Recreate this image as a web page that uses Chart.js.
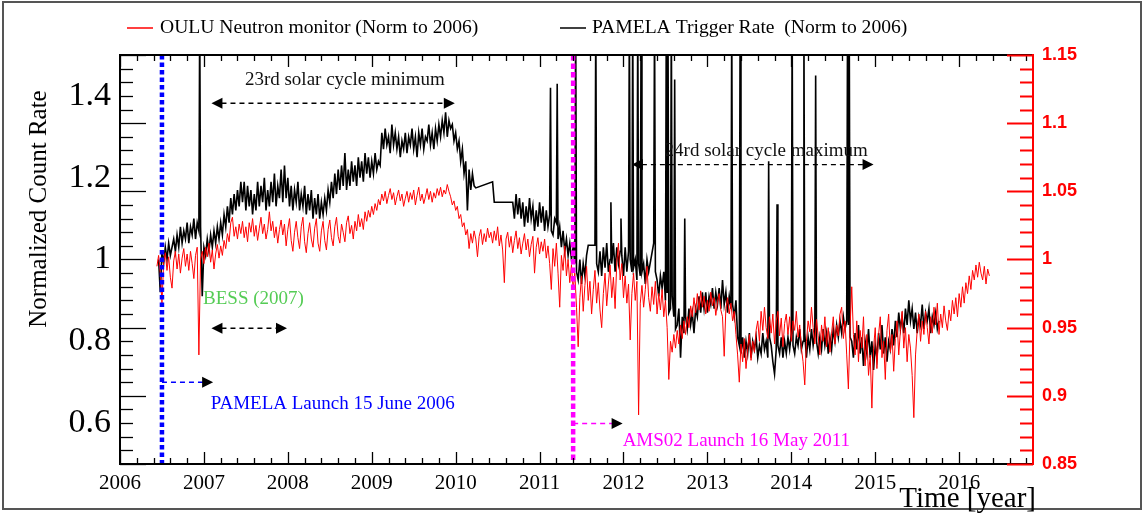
<!DOCTYPE html>
<html>
<head>
<meta charset="utf-8">
<script src="https://cdn.jsdelivr.net/npm/chart.js@4"></script>
<style>
html,body{margin:0;padding:0;background:#fff;}
#wrap{width:1146px;height:518px;}
</style>
</head>
<body>
<div id="wrap"><canvas id="c" width="1146" height="518"></canvas></div>
<script>
// ---------------- DATA ----------------
const sampleStep = 0.02;          // years between samples
const pamelaStart = 2006.46;      // first PAMELA sample (year)
const ouluStart = 2006.44;        // first OULU sample (year)

// PAMELA trigger rate, normalised to 2006 (left axis); null = no data
const pamelaRate = [
1.00,0.92,1.02,0.99,1.03,1.00,1.04,1.01,1.03,1.05,1.02,1.06,1.03,1.08,1.04,1.07,1.05,1.09,1.04,1.08,1.06,1.10,1.05,1.09,1.07,
1.08,0.91,1.03,1.01,1.05,1.02,1.06,1.03,1.07,1.04,1.08,1.05,1.09,1.06,1.11,1.08,1.13,1.09,1.15,1.11,1.16,1.12,1.17,1.13,1.19,
1.14,1.19,1.12,1.18,1.13,1.17,1.11,1.16,1.12,1.19,1.13,1.18,1.14,1.20,1.12,1.17,1.13,1.19,1.14,1.21,1.13,1.18,1.15,1.22,1.14,
1.23,1.15,1.20,1.13,1.18,1.12,1.17,1.14,1.19,1.12,1.16,1.13,1.18,1.11,1.16,1.12,1.17,1.10,1.15,1.11,1.16,1.10,1.14,1.11,1.15,
1.12,1.17,1.14,1.19,1.15,1.21,1.16,1.22,1.17,1.23,1.18,1.26,1.17,1.22,1.18,1.24,1.19,1.23,1.18,1.25,1.20,1.24,1.19,1.26,1.21,
1.25,1.20,1.24,1.21,1.26,1.22,1.24,1.23,1.31,1.27,1.32,1.28,1.30,1.26,1.33,1.28,1.31,1.27,1.30,1.25,1.29,1.27,1.31,1.26,1.30,
1.28,1.32,1.27,1.30,1.25,1.31,1.28,1.32,1.27,1.30,1.29,1.33,1.28,1.31,1.27,1.32,1.29,1.33,1.30,1.34,1.31,1.36,1.30,1.34,1.32,
1.33,1.29,1.31,1.27,1.29,1.24,1.27,1.21,1.24,1.12,1.22,1.17,1.21,1.18,1.175,null,null,null,null,null,null,null,null,null,1.19,
1.14,null,null,null,null,null,null,null,null,null,null,1.14,1.10,1.16,1.11,1.15,1.10,1.14,1.08,1.13,1.09,1.15,1.10,1.13,1.07,
1.12,1.08,1.14,1.09,1.13,1.07,1.12,1.08,1.11,1.07,1.06,1.10,1.09,1.05,1.08,1.03,1.07,1.02,1.05,1.01,1.04,1.00,1.03,0.99,0.97,
0.95,1.00,0.94,0.99,0.96,1.01,1.035,null,null,null,1.035,0.99,0.97,1.02,0.96,1.03,0.98,1.04,0.97,1.00,0.99,1.04,0.97,1.03,0.99,
1.02,1.01,0.96,1.03,0.97,1.02,1.00,0.97,0.98,1.00,0.95,0.99,0.96,0.97,0.99,0.94,1.00,0.97,null,null,1.04,0.97,0.95,0.91,0.96,
0.93,0.97,0.90,0.92,0.87,0.88,0.91,0.86,0.83,0.84,0.88,0.76,0.86,0.82,0.86,0.83,0.88,0.84,0.87,0.82,0.88,0.86,0.91,0.87,0.92,
0.88,0.92,0.87,0.91,0.89,0.93,0.88,0.92,0.89,0.93,0.88,0.95,0.89,0.92,0.87,0.91,0.88,0.89,0.86,0.90,0.81,0.79,0.77,0.81,0.76,
0.80,0.77,0.82,0.76,0.80,0.78,0.81,0.76,0.79,0.77,0.82,0.78,0.80,0.76,0.81,0.79,0.75,0.72,0.78,0.79,0.77,0.81,0.76,0.80,0.77,
0.81,0.78,0.82,0.79,0.77,0.81,0.79,0.83,0.78,0.80,0.82,0.76,0.81,0.78,0.83,0.79,0.82,0.80,0.77,0.81,0.78,0.83,0.79,0.82,0.77,
0.81,0.78,0.83,0.80,0.84,0.81,0.85,0.82,0.86,0.83,0.85,0.84,0.81,0.80,0.76,0.82,0.78,0.84,0.77,0.81,0.74,0.80,0.77,0.83,0.76,
0.80,0.73,0.79,0.76,0.82,0.78,0.84,0.77,0.81,0.75,0.80,0.78,0.83,0.79,0.85,0.81,0.87,0.83,0.86,0.82,0.88,0.84,0.90,0.85,0.88,
0.83,0.87,0.82,0.86,0.84,0.89,0.83,0.87,0.85,0.88,0.82,0.86,0.84,0.87,0.83,0.85
];

// short PAMELA trigger bursts (year, normalised rate; values above 1.5 run off the top)
const pamelaSpikeYears = [2006.95,2011.13,2011.21,2011.43,2011.67,2011.85,2011.97,2012.07,2012.11,2012.17,2012.21,2012.37,
  2012.51,2012.53,2012.57,2012.61,2012.73,2013.29,2013.39,2013.73,2013.83,2014.01,2014.15,2014.29,2014.67,2014.69];
const pamelaSpikeRates = [1.60,1.42,1.43,1.60,1.60,1.14,1.10,1.60,1.60,1.60,1.60,1.60,
  1.60,1.60,1.60,1.44,1.10,1.60,1.60,1.24,1.135,1.60,1.60,1.45,1.60,1.60];

// OULU neutron monitor, normalised to 2006 (right axis)
const ouluRate = [
0.995,1.003,0.990,0.968,0.998,1.005,0.992,1.002,0.987,0.979,0.999,1.006,0.993,1.004,0.990,1.001,1.008,0.995,1.004,0.992,1.006,0.997,0.986,1.003,1.009,
0.930,1.000,1.006,0.997,1.009,1.002,1.012,0.998,1.007,0.993,1.004,1.011,1.001,1.010,1.003,1.014,1.008,1.019,1.013,1.027,1.031,1.017,1.024,1.015,1.026,
1.019,1.028,1.016,1.024,1.013,1.027,1.020,1.030,1.017,1.025,1.014,1.023,1.031,1.019,1.026,1.015,1.022,1.035,1.021,1.028,1.016,1.024,1.012,1.022,1.029,
1.018,1.026,1.010,1.022,1.030,1.014,1.006,1.020,1.028,1.016,1.008,1.024,1.031,1.013,1.005,1.019,1.027,1.015,1.009,1.023,1.030,1.012,1.006,1.021,1.028,
1.014,1.007,1.022,1.029,1.016,1.010,1.024,1.031,1.017,1.012,1.026,1.020,1.013,1.027,1.032,1.019,1.025,1.015,1.028,1.021,1.033,1.024,1.030,1.022,1.035,
1.028,1.036,1.031,1.039,1.033,1.041,1.036,1.044,1.040,1.048,1.043,1.050,1.041,1.047,1.052,1.044,1.049,1.040,1.046,1.051,1.043,1.048,1.039,1.045,1.050,
1.042,1.049,1.044,1.051,1.040,1.047,1.053,1.043,1.048,1.041,1.046,1.052,1.044,1.050,1.042,1.049,1.045,1.052,1.047,1.053,1.046,1.051,1.048,1.055,1.050,
1.046,1.040,1.043,1.036,1.039,1.030,1.033,1.024,1.027,1.018,1.022,1.008,1.019,1.012,1.021,1.015,1.002,1.017,1.022,1.011,1.019,1.013,1.023,1.016,1.020,
1.012,1.021,1.014,1.024,1.010,1.018,1.007,0.983,1.015,1.020,1.009,1.017,1.005,1.014,1.021,1.008,1.016,1.004,1.012,1.019,1.007,1.015,1.002,1.011,1.017,
0.990,1.009,1.016,1.004,1.013,1.006,1.015,1.001,1.010,0.997,0.978,1.008,0.995,1.012,0.990,0.965,1.003,0.992,1.010,0.988,1.000,0.983,0.996,0.978,0.990,
0.965,0.936,0.972,0.988,0.962,0.981,0.995,0.970,0.984,0.960,0.978,0.992,0.968,0.983,0.963,0.950,0.975,0.990,0.966,0.982,0.996,0.972,0.987,0.964,0.998,
1.012,0.985,0.997,0.972,0.988,0.968,0.982,0.941,0.975,0.990,0.970,0.984,0.886,0.968,0.981,0.965,0.978,0.995,0.972,0.962,0.980,0.967,0.984,0.960,0.975,
0.963,0.978,0.958,0.970,0.950,0.912,0.940,0.932,0.945,0.935,0.948,0.938,0.952,0.942,0.955,0.945,0.958,0.950,0.966,0.958,0.972,0.961,0.975,0.963,0.977,
0.965,0.973,0.960,0.970,0.962,0.976,0.966,0.972,0.959,0.969,0.975,0.963,0.958,0.929,0.964,0.972,0.960,0.968,0.955,0.962,0.945,0.930,0.910,0.938,0.925,
0.942,0.920,0.935,0.945,0.926,0.940,0.932,0.948,0.955,0.940,0.962,0.948,0.965,0.950,0.942,0.958,0.946,0.960,0.938,0.955,0.962,0.944,0.957,0.936,0.953,
0.960,0.945,0.958,0.940,0.955,0.948,0.962,0.943,0.952,0.935,0.925,0.908,0.940,0.955,0.947,0.965,0.950,0.938,0.956,0.944,0.930,0.952,0.940,0.958,0.936,
0.950,0.932,0.946,0.958,0.938,0.952,0.944,0.960,0.965,0.942,0.955,0.930,0.905,0.950,0.980,0.945,0.930,0.955,0.925,0.948,0.935,0.958,0.922,0.945,0.915,
0.930,0.891,0.935,0.950,0.920,0.945,0.958,0.928,0.940,0.912,0.948,0.960,0.932,0.945,0.918,0.942,0.955,0.930,0.948,0.962,0.935,0.950,0.925,0.945,0.935,
0.915,0.884,0.930,0.948,0.960,0.940,0.955,0.945,0.962,0.950,0.938,0.958,0.946,0.965,0.952,0.968,0.945,0.960,0.950,0.966,0.955,0.948,0.963,0.955,0.970,
0.960,0.972,0.958,0.975,0.965,0.980,0.968,0.983,0.975,0.988,0.978,0.992,0.985,0.996,0.987,0.998,0.990,0.985,0.995,0.982,0.993,0.988
];

const xTickYears = [2006,2007,2008,2009,2010,2011,2012,2013,2014,2015,2016];
const leftTicks = [0.6,0.8,1,1.2,1.4];
const rightTicks = [0.85,0.9,0.95,1,1.05,1.1,1.15];

const legendLabels = ['OULU Neutron monitor (Norm to 2006)', 'PAMELA Trigger Rate  (Norm to 2006)'];
const pamelaLaunch = 2006.5;   // PAMELA launch, 15 June 2006
const amsLaunch = 2011.4;      // AMS02 launch, 16 May 2011

// ---------------- CHART ----------------
const toPoints = (start, vals) => vals.map((v, i) => ({x: +(start + i * sampleStep).toFixed(2), y: v}));
const pamelaPoints = toPoints(pamelaStart, pamelaRate)
  .concat(pamelaSpikeYears.map((x, i) => ({x, y: pamelaSpikeRates[i]})))
  .sort((p, q) => p.x - q.x);

const SERIF = 'Liberation Serif';

function arrowHead(ctx, tipX, tipY, dir) {
  ctx.beginPath();
  ctx.moveTo(tipX, tipY);
  ctx.lineTo(tipX - dir * 11, tipY - 5.5);
  ctx.lineTo(tipX - dir * 11, tipY + 5.5);
  ctx.closePath();
  ctx.fillStyle = '#000';
  ctx.fill();
}
function dashedArrow(ctx, x1, x2, yy, color, both) {
  ctx.save();
  ctx.strokeStyle = color;
  ctx.lineWidth = 1.4;
  ctx.setLineDash([5, 4]);
  ctx.beginPath();
  ctx.moveTo(both ? x1 + 10 : x1, yy);
  ctx.lineTo(x2 - 10, yy);
  ctx.stroke();
  ctx.restore();
  arrowHead(ctx, x2, yy, 1);
  if (both) arrowHead(ctx, x1, yy, -1);
}

const overlay = {
  id: 'overlay',
  afterDatasetsDraw(chart) {
    const {ctx, chartArea: a, scales} = chart;
    const X = v => scales.x.getPixelForValue(v);
    const Y = v => scales.y.getPixelForValue(v);
    ctx.save();
    ctx.lineWidth = 4.5;
    ctx.setLineDash([4.5, 3]);
    ctx.strokeStyle = '#0000ff';
    ctx.beginPath(); ctx.moveTo(X(pamelaLaunch), a.top); ctx.lineTo(X(pamelaLaunch), a.bottom); ctx.stroke();
    ctx.strokeStyle = '#ff00ff';
    ctx.setLineDash([5.5, 3]);
    ctx.beginPath(); ctx.moveTo(X(amsLaunch), a.top); ctx.lineTo(X(amsLaunch), a.bottom); ctx.stroke();
    ctx.setLineDash([]);
    dashedArrow(ctx, X(2007.09), X(2009.99), Y(1.382), '#000', true);
    dashedArrow(ctx, X(2007.09), X(2007.99), Y(0.832), '#000', true);
    dashedArrow(ctx, X(2012.1), X(2014.98), Y(1.232), '#000', true);
    dashedArrow(ctx, X(pamelaLaunch), X(2007.11), Y(0.70), '#0000ff', false);
    dashedArrow(ctx, X(amsLaunch), X(2011.99), Y(0.599), '#ff00ff', false);
    ctx.font = '19px "' + SERIF + '"';
    ctx.textBaseline = 'middle';
    ctx.fillStyle = '#111';
    ctx.textAlign = 'center';
    ctx.fillText('23rd solar cycle minimum', X(2008.68), Y(1.439));
    ctx.textAlign = 'left';
    ctx.fillText('24rd solar cycle maximum', X(2012.49), Y(1.265));
    ctx.fillStyle = '#55cc55';
    ctx.fillText('BESS (2007)', X(2006.99), Y(0.903));
    ctx.fillStyle = '#0000ff';
    ctx.fillText('PAMELA Launch 15 June 2006', X(2007.08), Y(0.646));
    ctx.fillStyle = '#ff00ff';
    ctx.fillText('AMS02 Launch 16 May 2011', X(2011.99), Y(0.555));
    ctx.restore();
  },
  afterDraw(chart) {
    const {ctx, chartArea: a, scales} = chart;
    ctx.save();
    ctx.strokeStyle = '#555';
    ctx.lineWidth = 2;
    ctx.strokeRect(3, 2, 1138, 507);
    ctx.strokeStyle = '#000';
    ctx.lineWidth = 2;
    ctx.strokeRect(a.left, a.top, a.right - a.left, a.bottom - a.top);
    ctx.strokeStyle = '#ff0000';
    ctx.beginPath(); ctx.moveTo(a.right, a.top - 1); ctx.lineTo(a.right, a.bottom + 1); ctx.stroke();
    ctx.strokeStyle = '#000';
    ctx.lineWidth = 1.3;
    for (let k = 0; k <= 54; k++) {
      const yr = 2006 + k * 0.2;
      if (yr > scales.x.max) break;
      const px = Math.round(scales.x.getPixelForValue(yr)) + 0.5;
      const len = (k % 5 === 0) ? 12 : 6;
      ctx.beginPath();
      ctx.moveTo(px, a.bottom); ctx.lineTo(px, a.bottom - len);
      ctx.moveTo(px, a.top); ctx.lineTo(px, a.top + len);
      ctx.stroke();
    }
    for (let k = 85; k <= 115; k++) {
      const py = Math.round(scales.yR.getPixelForValue(k / 100)) + 0.5;
      const len = (k % 5 === 0) ? 26 : 13;
      ctx.strokeStyle = '#000';
      ctx.lineWidth = 1.3;
      ctx.beginPath(); ctx.moveTo(a.left, py); ctx.lineTo(a.left + len, py); ctx.stroke();
      ctx.strokeStyle = '#ff0000';
      ctx.lineWidth = 2;
      ctx.beginPath(); ctx.moveTo(a.right, py); ctx.lineTo(a.right - len, py); ctx.stroke();
    }
    // legend
    ctx.lineWidth = 1.5;
    ctx.strokeStyle = '#ff0000';
    ctx.beginPath(); ctx.moveTo(127, 28); ctx.lineTo(153, 28); ctx.stroke();
    ctx.strokeStyle = '#000';
    ctx.beginPath(); ctx.moveTo(560, 28); ctx.lineTo(586, 28); ctx.stroke();
    ctx.fillStyle = '#000';
    ctx.font = '19.6px "' + SERIF + '"';
    ctx.textBaseline = 'middle';
    ctx.textAlign = 'left';
    ctx.fillText(legendLabels[0], 160, 28);
    ctx.fillText(legendLabels[1], 592, 28);
    // axis titles
    ctx.font = '29px "' + SERIF + '"';
    ctx.textAlign = 'right';
    ctx.textBaseline = 'alphabetic';
    ctx.fillText('Time [year]', 1036, 507);
    ctx.translate(39, 209);
    ctx.rotate(-Math.PI / 2);
    ctx.font = '25px "' + SERIF + '"';
    ctx.textAlign = 'center';
    ctx.textBaseline = 'middle';
    ctx.fillText('Normalized Count Rate', 0, 0);
    ctx.restore();
  }
};

new Chart(document.getElementById('c'), {
  type: 'line',
  data: {
    datasets: [
      {
        label: legendLabels[0],
        data: toPoints(ouluStart, ouluRate),
        yAxisID: 'yR',
        borderColor: '#ff0000',
        borderWidth: 1,
        pointRadius: 0,
        tension: 0,
        spanGaps: true
      },
      {
        label: legendLabels[1],
        data: pamelaPoints,
        yAxisID: 'y',
        borderColor: '#000000',
        borderWidth: 1.6,
        pointRadius: 0,
        tension: 0,
        spanGaps: true
      }
    ]
  },
  options: {
    responsive: false,
    animation: false,
    devicePixelRatio: 1,
    layout: {padding: {top: 55, left: 0, right: 0, bottom: 0}},
    plugins: {legend: {display: false}, tooltip: {enabled: false}},
    scales: {
      x: {
        type: 'linear', position: 'bottom', min: 2006, max: 2016.88,
        afterBuildTicks: s => { s.ticks = xTickYears.map(v => ({value: v})); },
        afterFit: s => { s.height = 54; },
        grid: {display: false}, border: {display: false},
        ticks: {color: '#000', padding: -1, maxRotation: 0, autoSkip: false,
                font: {family: SERIF, size: 21}, callback: v => String(v)}
      },
      y: {
        position: 'left', min: 0.5, max: 1.5,
        afterBuildTicks: s => { s.ticks = leftTicks.map(v => ({value: v})); },
        afterFit: s => { s.width = 120; },
        grid: {display: false}, border: {display: false},
        ticks: {color: '#000', padding: 1, autoSkip: false,
                font: {family: SERIF, size: 34}, callback: v => String(v)}
      },
      yR: {
        position: 'right', min: 0.85, max: 1.15,
        afterBuildTicks: s => { s.ticks = rightTicks.map(v => ({value: v})); },
        afterFit: s => { s.width = 113; },
        grid: {display: false}, border: {display: false},
        ticks: {color: '#ff0000', padding: 1, autoSkip: false,
                font: {family: 'Liberation Sans', size: 18, weight: 'bold'}, callback: v => String(v)}
      }
    }
  },
  plugins: [overlay]
});
</script>
</body>
</html>
